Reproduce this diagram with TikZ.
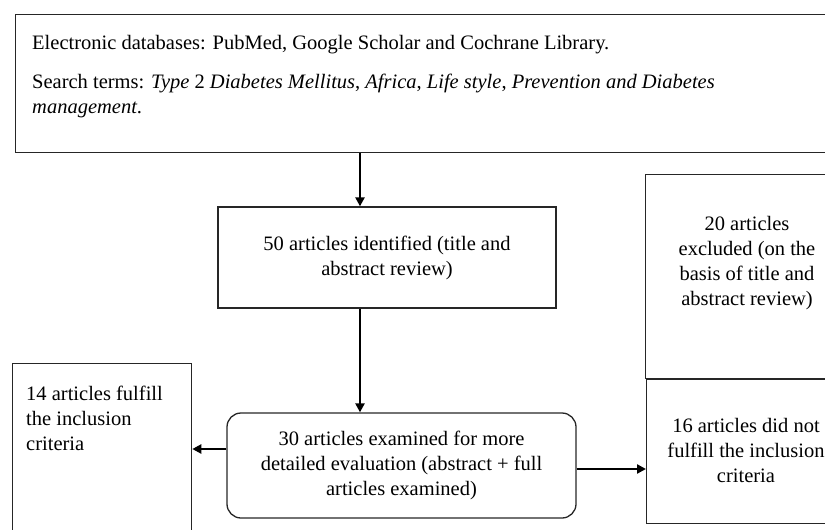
\documentclass[tikz,border=0pt]{standalone}
\usepackage{fontspec}
\setmainfont{Liberation Serif}
\usetikzlibrary{arrows.meta}
\begin{document}
\begin{tikzpicture}[x=1pt,y=-1pt,
  box/.style={draw=black!85,line width=1.3pt,inner sep=0pt},
  conn/.style={line width=2.4pt,-{Triangle[length=9pt,width=9pt]}},
  txt/.style={font=\fontsize{20.5}{25}\selectfont,inner sep=0pt}]
\useasboundingbox (0,0) rectangle (825,530);
\clip (0,0) rectangle (825,530);
% boxes
\node[box,anchor=north west,minimum width=830pt,minimum height=138pt] (src) at (15,14) {};
\node[box,txt,align=center,minimum width=338pt,minimum height=101pt] (ident) at (387,257.5) {50 articles identified (title and\\abstract review)};
\node[box,anchor=north west,minimum width=214pt,minimum height=204pt] (excl) at (645,174) {};
\node[box,anchor=north west,minimum width=179pt,minimum height=180pt] (incl) at (12,363) {};
\node[box,txt,rounded corners=14pt,align=center,minimum width=349pt,minimum height=105pt] (eval) at (401.5,465.5) {30 articles examined for more\\detailed evaluation (abstract + full\\articles examined)};
\node[box,anchor=north west,minimum width=214pt,minimum height=144pt] (notf) at (646,379) {};
% texts
\node[txt,anchor=base west] (l1) at (32,49) {Electronic databases: PubMed, Google Scholar and Cochrane Library.};
\node[txt,anchor=base west] (l2) at (32,88) {Search terms: \textit{Type} 2 \textit{Diabetes Mellitus}, \textit{Africa}, \textit{Life style}, \textit{Prevention and Diabetes}};
\node[txt,anchor=base west] (l3) at (32,113) {\textit{management}.};
\node[txt,align=center] (exclt) at (747,263) {20 articles\\excluded (on the\\basis of title and\\abstract review)};
\node[txt,align=left,anchor=north west] (inclt) at (26,386) {14 articles fulfill\\the inclusion\\criteria};
\node[txt,align=center] (notft) at (746,450) {16 articles did not\\fulfill the inclusion\\criteria};
% connectors
\coordinate (ax) at (360,0);
\coordinate (ly) at (0,449);
\coordinate (ry) at (0,469);
\draw[conn] (ax |- src.south) -- (ax |- ident.north);
\draw[conn] (ax |- ident.south) -- (ax |- eval.north);
\draw[conn] (eval.west |- ly) -- (incl.east |- ly);
\draw[conn] (eval.east |- ry) -- (notf.west |- ry);
\end{tikzpicture}
\end{document}
